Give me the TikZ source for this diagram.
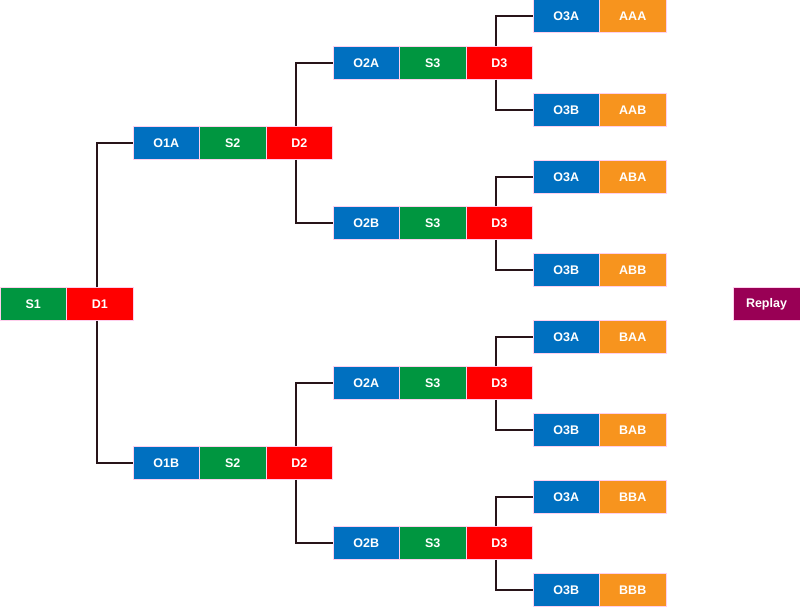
\documentclass[tikz,border=0pt]{standalone}
\usepackage{fontspec}
\setmainfont{Liberation Sans}
\begin{document}
\begin{tikzpicture}[x=1pt,y=-1pt,
  box/.style={draw=pink!70!magenta!40,line width=0.5pt,minimum width=66.5pt,minimum height=33pt,inner sep=0,text=white,font=\bfseries\fontsize{12.5}{14}\selectfont,anchor=center},
  O/.style={box,fill={rgb,255:red,0;green,112;blue,192}},
  S/.style={box,fill={rgb,255:red,0;green,150;blue,64}},
  D/.style={box,fill={rgb,255:red,255;green,0;blue,0}},
  R/.style={box,fill={rgb,255:red,247;green,148;blue,30}},
  P/.style={box,fill={rgb,255:red,153;green,0;blue,85}},
  link/.style={draw={rgb,255:red,40;green,20;blue,25},line width=1.6pt}]
\useasboundingbox (0,0) rectangle (800,607);
\node[S] (s1) at (33.25,304) {S1};
\node[D] (d1) at (99.75,304) {D1};
\node[P] (replay) at (766.5,304) {Replay};
% level 1
\foreach \n/\lab/\y in {a/O1A/143, b/O1B/463}{
  \node[O] (o1\n) at (166.25,\y) {\lab};
  \node[S] (s2\n) at (232.75,\y) {S2};
  \node[D] (d2\n) at (299.25,\y) {D2};
}
% level 2
\foreach \n/\lab/\y in {aa/O2A/63, ab/O2B/223, ba/O2A/383, bb/O2B/543}{
  \node[O] (o2\n) at (366.25,\y) {\lab};
  \node[S] (s3\n) at (432.75,\y) {S3};
  \node[D] (d3\n) at (499.25,\y) {D3};
}
% level 3
\foreach \n/\lab/\res/\y in {aaa/O3A/AAA/16, aab/O3B/AAB/110, aba/O3A/ABA/177, abb/O3B/ABB/270,
  baa/O3A/BAA/337, bab/O3B/BAB/430, bba/O3A/BBA/497, bbb/O3B/BBB/590}{
  \node[O] (o3\n) at (566.25,\y) {\lab};
  \node[R] (r\n) at (632.75,\y) {\res};
}
% connectors
\draw[link] ([xshift=-3pt]d1.north) |- (o1a.west);
\draw[link] ([xshift=-3pt]d1.south) |- (o1b.west);
\foreach \p in {a,b}{
  \draw[link] ([xshift=-3pt]d2\p.north) |- (o2\p a.west);
  \draw[link] ([xshift=-3pt]d2\p.south) |- (o2\p b.west);
}
\foreach \p in {aa,ab,ba,bb}{
  \draw[link] ([xshift=-3pt]d3\p.north) |- (o3\p a.west);
  \draw[link] ([xshift=-3pt]d3\p.south) |- (o3\p b.west);
}
\end{tikzpicture}
\end{document}
